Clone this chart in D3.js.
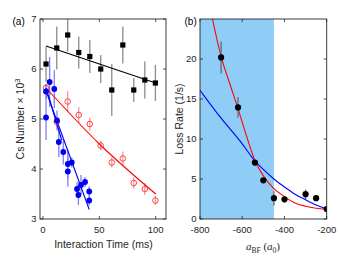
<!DOCTYPE html>
<html><head><meta charset="utf-8">
<script src="https://cdn.jsdelivr.net/npm/d3@7"></script>
<style>
html,body{margin:0;padding:0;background:#fff;}
svg{display:block;font-family:"Liberation Sans",Arial,sans-serif;}
</style></head>
<body>
<svg id="c" width="339" height="259"></svg>
<script>
// ---------- Panel (a) data ----------
const aXTicks = [0, 50, 100];
const aYTicks = [3, 4, 5, 6, 7];
const blackT   = [2.7, 12.2, 21.9, 31.7, 41.5, 51.2, 61, 70.8, 80.5, 90.3, 99.7];
const blackN   = [6.10, 6.42, 6.68, 6.33, 6.25, 6.00, 5.58, 6.48, 5.58, 5.78, 5.72];
const blackErr = [0.35, 0.43, 0.33, 0.32, 0.33, 0.28, 0.52, 0.37, 0.24, 0.37, 0.36];
const redT   = [2.7, 12.2, 21.9, 31.7, 41.5, 51.2, 61, 70.8, 80.5, 90.3, 99.7];
const redN   = [5.62, 4.94, 5.35, 5.08, 4.90, 4.47, 4.13, 4.21, 3.72, 3.60, 3.37];
const redErr = [0.08, 0.10, 0.21, 0.16, 0.13, 0.10, 0.10, 0.14, 0.11, 0.12, 0.09];
const blueT   = [5.9, 2.7, 10, 2.7, 12.4, 14, 18, 22, 25.5, 22, 30.2, 31.4, 33.7, 37.3, 41, 41];
const blueN   = [5.74, 5.55, 5.60, 5.03, 4.97, 4.54, 4.34, 4.10, 4.13, 3.95, 3.60, 3.48, 3.68, 3.74, 3.55, 3.37];
const blueErr = [0.50, 0.15, 0.38, 0.45, 0.20, 0.30, 0.25, 0.30, 0.10, 0.30, 0.15, 0.20, 0.20, 0.10, 0.10, 0.10];
const blackFitT = [2.7, 100];
const blackFitN = [6.46, 5.72];
const redFitT = [2.7, 50, 100];
const redFitN = [5.62, 4.50, 3.50];
const blueFit1T = [2.7, 41];
const blueFit1N = [5.56, 3.19];
const blueFit2T = [2.7, 16.6];
const blueFit2N = [5.62, 4.58];

// ---------- Panel (b) data ----------
const bXTicks = [-800, -600, -400, -200];
const bYTicks = [0, 5, 10, 15, 20];
const shadeRange = [-800, -450];
const scatA   = [-700, -620, -540, -500, -450, -400, -300, -250, -200];
const lossR   = [20.2, 13.95, 7.05, 4.83, 2.6, 2.46, 3.1, 2.6, 1.25];
const lossErr = [2.0, 1.3, 0.4, 0.3, 0.9, 0.4, 0.6, 0.3, 0.3];
const redCurveA = [-741, -700, -660, -620, -580, -540, -500, -450, -400, -350, -300, -250, -200];
const redCurveR = [25, 20.3, 17.0, 13.8, 10.4, 7.3, 5.4, 3.8, 2.8, 2.0, 1.6, 1.35, 1.2];
const blueCurveA = [-800, -700, -600, -538, -500, -450, -400, -350, -300, -250, -200];
const blueCurveR = [16.1, 12.6, 9.4, 7.2, 6.2, 5.0, 4.0, 3.1, 2.4, 1.75, 1.25];

const svg = d3.select("#c");
const axisColor = "#262626";
const tickFont = 9.5;

function frame(g, x, y, xt, yt, xLabels, yLabels) {
  const [x0, x1] = x.range(), [y0, y1] = y.range();
  const tl = 3;
  const ax = g.append("g");
  ax.append("rect").attr("x", x0).attr("y", y1).attr("width", x1 - x0).attr("height", y0 - y1)
    .attr("fill", "none").attr("stroke", axisColor).attr("stroke-width", 0.9);
  xt.forEach(v => {
    const px = x(v);
    ax.append("line").attr("x1", px).attr("x2", px).attr("y1", y0).attr("y2", y0 - tl).attr("stroke", axisColor).attr("stroke-width", 0.8);
    ax.append("line").attr("x1", px).attr("x2", px).attr("y1", y1).attr("y2", y1 + tl).attr("stroke", axisColor).attr("stroke-width", 0.8);
    if (xLabels) ax.append("text").attr("x", px).attr("y", y0 + 13.5).attr("text-anchor", "middle")
      .attr("font-size", tickFont).attr("fill", axisColor).text(v);
  });
  yt.forEach(v => {
    const py = y(v);
    ax.append("line").attr("x1", x0).attr("x2", x0 + tl).attr("y1", py).attr("y2", py).attr("stroke", axisColor).attr("stroke-width", 0.8);
    ax.append("line").attr("x1", x1).attr("x2", x1 - tl).attr("y1", py).attr("y2", py).attr("stroke", axisColor).attr("stroke-width", 0.8);
    if (yLabels) ax.append("text").attr("x", x0 - 3.5).attr("y", py + 3.4).attr("text-anchor", "end")
      .attr("font-size", tickFont).attr("fill", axisColor).text(v);
  });
}

// ================= Panel (a) =================
const xa = d3.scaleLinear().domain([-2.66, 109.1]).range([40, 166]);
const ya = d3.scaleLinear().domain([3, 7]).range([219, 19]);
const ga = svg.append("g");
svg.append("clipPath").attr("id", "clipA").append("rect").attr("x", 40).attr("y", 19).attr("width", 126).attr("height", 200);
const pa = ga.append("g").attr("clip-path", "url(#clipA)");

const line = (xs, ys, xsc, ysc, curve) => d3.line().x(d => xsc(d[0])).y(d => ysc(d[1])).curve(curve || d3.curveLinear)(xs.map((v, i) => [v, ys[i]]));

function errBars(g, xs, ys, es, xsc, ysc, color, w) {
  xs.forEach((v, i) => {
    g.append("line").attr("x1", xsc(v)).attr("x2", xsc(v))
      .attr("y1", ysc(ys[i] - es[i])).attr("y2", ysc(ys[i] + es[i]))
      .attr("stroke", color).attr("stroke-width", w || 1.3);
  });
}

// error bars
errBars(pa, blackT, blackN, blackErr, xa, ya, "#8c8c8c");
errBars(pa, redT, redN, redErr, xa, ya, "#f29a9a");
errBars(pa, blueT, blueN, blueErr, xa, ya, "#8080f4");

// fit lines
pa.append("path").attr("d", line(blackFitT, blackFitN, xa, ya)).attr("fill", "none").attr("stroke", "#000").attr("stroke-width", 1.1);
pa.append("path").attr("d", line(redFitT, redFitN, xa, ya, d3.curveMonotoneX)).attr("fill", "none").attr("stroke", "#ff0000").attr("stroke-width", 1.1);
pa.append("path").attr("d", line(blueFit1T, blueFit1N, xa, ya)).attr("fill", "none").attr("stroke", "#0000ff").attr("stroke-width", 1.1);
pa.append("path").attr("d", line(blueFit2T, blueFit2N, xa, ya)).attr("fill", "none").attr("stroke", "#0000ff").attr("stroke-width", 1.1);

// markers
pa.selectAll(".sq").data(blackT.map((v, i) => [v, blackN[i]])).join("rect")
  .attr("x", d => xa(d[0]) - 2.6).attr("y", d => ya(d[1]) - 2.6).attr("width", 5.2).attr("height", 5.2).attr("fill", "#000");
pa.selectAll(".rc").data(redT.map((v, i) => [v, redN[i]])).join("circle")
  .attr("cx", d => xa(d[0])).attr("cy", d => ya(d[1])).attr("r", 2.8)
  .attr("fill", "none").attr("stroke", "#ff3030").attr("stroke-width", 0.9);
pa.selectAll(".bc").data(blueT.map((v, i) => [v, blueN[i]])).join("circle")
  .attr("cx", d => xa(d[0])).attr("cy", d => ya(d[1])).attr("r", 2.9).attr("fill", "#0000ee");

frame(ga, xa, ya, aXTicks, aYTicks, true, true);

ga.append("text").attr("x", 103.5).attr("y", 248).attr("text-anchor", "middle").attr("font-size", 10.5)
  .attr("fill", axisColor).text("Interaction Time (ms)");
const ylA = ga.append("text").attr("transform", "translate(23.8,119) rotate(-90)").attr("text-anchor", "middle")
  .attr("font-size", 10.5).attr("fill", axisColor);
ylA.append("tspan").text("Cs Number \u00d7 10");
ylA.append("tspan").attr("dy", -4).attr("font-size", 7.5).text("3");
ga.append("text").attr("x", 12.5).attr("y", 25).attr("font-size", 10).attr("fill", "#000").text("(a)");

// ================= Panel (b) =================
const xb = d3.scaleLinear().domain([-800, -200]).range([200, 326.7]);
const yb = d3.scaleLinear().domain([0, 25]).range([219, 19]);
const gb = svg.append("g");
svg.append("clipPath").attr("id", "clipB").append("rect").attr("x", 200).attr("y", 19).attr("width", 126.7).attr("height", 200);
const pb = gb.append("g").attr("clip-path", "url(#clipB)");

pb.append("rect").attr("x", xb(shadeRange[0])).attr("y", 19).attr("width", xb(shadeRange[1]) - xb(shadeRange[0])).attr("height", 200)
  .attr("fill", "#8fcdf7");

pb.append("path").attr("d", line(blueCurveA, blueCurveR, xb, yb, d3.curveMonotoneX)).attr("fill", "none").attr("stroke", "#0000ff").attr("stroke-width", 1.1);
pb.append("path").attr("d", line(redCurveA, redCurveR, xb, yb, d3.curveMonotoneX)).attr("fill", "none").attr("stroke", "#ff0000").attr("stroke-width", 1.1);

errBars(pb, scatA, lossR, lossErr, xb, yb, "#5a6a7a", 1.3);
pb.selectAll(".bp").data(scatA.map((v, i) => [v, lossR[i]])).join("circle")
  .attr("cx", d => xb(d[0])).attr("cy", d => yb(d[1])).attr("r", 3.1).attr("fill", "#000");

frame(gb, xb, yb, bXTicks, bYTicks, true, true);

const xlB = gb.append("text").attr("x", 263).attr("y", 250).attr("text-anchor", "middle")
  .attr("font-family", "'Liberation Serif','DejaVu Serif',serif").attr("font-size", 11).attr("fill", axisColor);
xlB.append("tspan").attr("font-style", "italic").text("a");
xlB.append("tspan").attr("dy", 2.5).attr("font-size", 7.5).text("BF");
xlB.append("tspan").attr("dy", -2.5).text(" (");
xlB.append("tspan").attr("font-style", "italic").text("a");
xlB.append("tspan").attr("dy", 2.5).attr("font-size", 7.5).text("0");
xlB.append("tspan").attr("dy", -2.5).text(")");

gb.append("text").attr("transform", "translate(183,119) rotate(-90)").attr("text-anchor", "middle")
  .attr("font-size", 10.5).attr("fill", axisColor).text("Loss Rate (1/s)");
gb.append("text").attr("x", 184.5).attr("y", 25).attr("font-size", 10).attr("fill", "#000").text("(b)");
</script>
</body></html>
